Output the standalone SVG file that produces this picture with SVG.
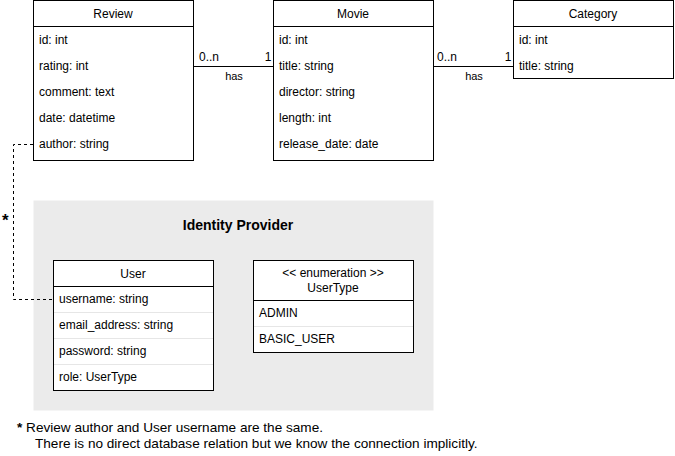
<svg xmlns="http://www.w3.org/2000/svg" width="675" height="456" viewBox="0 0 675 456">
<style>
text{font-family:"Liberation Sans",Arial,sans-serif;font-size:12px;fill:#000}
.c{text-anchor:middle}
.box{fill:#fff;stroke:#000;stroke-width:1}
.sep{stroke:#000;stroke-width:1}
.rs{stroke:#e6e6e6;stroke-width:1}
.ln{stroke:#000;stroke-width:1;fill:none}
.dash{stroke:#000;stroke-width:1;fill:none;stroke-dasharray:3 3}
.fn{font-size:13.6px}
</style>
<rect width="675" height="456" fill="#fff"/>
<g id="identity-provider">
<rect x="33.5" y="200.5" width="400" height="210" fill="#ebebeb"/>
<text x="238" y="230" class="c" style="font-weight:bold;font-size:14px">Identity Provider</text>
</g>
<g id="connectors">
<path class="ln" d="M193.5 66.5H273.5"/>
<text x="199" y="61">0..n</text>
<text x="268" y="61" class="c">1</text>
<text x="234" y="80" class="c" style="font-size:11px">has</text>
<path class="ln" d="M433.5 66.5H513.5"/>
<text x="437" y="61">0..n</text>
<text x="508" y="61" class="c">1</text>
<text x="474" y="80" class="c" style="font-size:11px">has</text>
<path class="dash" d="M33 144.5H13.5V299.5H53"/>
<text x="2" y="226" style="font-weight:bold;font-size:17px">*</text>
</g>
<g id="review">
<rect class="box" x="33.5" y="0.5" width="160" height="160"/>
<path class="sep" d="M33.5 26.5H193.5"/>
<text x="113" y="18" class="c">Review</text>
<text x="39" y="44">id: int</text>
<text x="39" y="70">rating: int</text>
<text x="39" y="96">comment: text</text>
<text x="39" y="122">date: datetime</text>
<text x="39" y="148">author: string</text>
</g>
<g id="movie">
<rect class="box" x="273.5" y="0.5" width="160" height="160"/>
<path class="sep" d="M273.5 26.5H433.5"/>
<text x="353" y="18" class="c">Movie</text>
<text x="279" y="44">id: int</text>
<text x="279" y="70">title: string</text>
<text x="279" y="96">director: string</text>
<text x="279" y="122">length: int</text>
<text x="279" y="148">release_date: date</text>
</g>
<g id="category">
<rect class="box" x="513.5" y="0.5" width="160" height="78"/>
<path class="sep" d="M513.5 26.5H673.5"/>
<text x="593" y="18" class="c">Category</text>
<text x="519" y="44">id: int</text>
<text x="519" y="70">title: string</text>
</g>
<g id="user">
<rect class="box" x="53.5" y="260.5" width="160" height="130"/>
<path class="sep" d="M53.5 286.5H213.5"/>
<path class="rs" d="M54 312.5H213M54 338.5H213M54 364.5H213"/>
<text x="133" y="278" class="c">User</text>
<text x="59" y="303">username: string</text>
<text x="59" y="329">email_address: string</text>
<text x="59" y="355">password: string</text>
<text x="59" y="381">role: UserType</text>
</g>
<g id="usertype">
<rect class="box" x="253.5" y="260.5" width="160" height="92"/>
<path class="sep" d="M253.5 300.5H413.5"/>
<path class="rs" d="M254 326.5H413"/>
<text x="333" y="277" class="c">&lt;&lt; enumeration &gt;&gt;</text>
<text x="333" y="292" class="c">UserType</text>
<text x="259" y="317">ADMIN</text>
<text x="259" y="343">BASIC_USER</text>
</g>
<g id="footnote">
<text x="17" y="432" class="fn"><tspan style="font-weight:bold">*</tspan> Review author and User username are the same.</text>
<text x="35" y="448" class="fn">There is no direct database relation but we know the connection implicitly.</text>
</g>
</svg>
